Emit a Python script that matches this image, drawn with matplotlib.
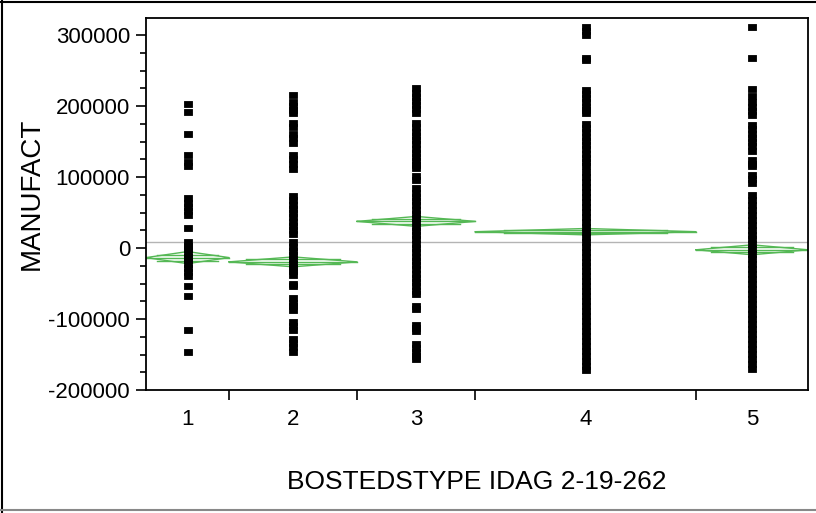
import matplotlib
matplotlib.use('Agg')
import matplotlib.pyplot as plt
import numpy as np
from matplotlib.path import Path
from matplotlib.lines import Line2D
from matplotlib.ticker import MultipleLocator, FixedLocator, NullFormatter, FuncFormatter

plt.rcParams['font.family'] = ['Liberation Sans', 'DejaVu Sans']
plt.rcParams['axes.unicode_minus'] = False

# ---- data ----
categories = ['1', '2', '3', '4', '5']
group_n = [26, 40, 37, 69, 35]  # relative group widths (proportional to counts)

g1 = [203000, 192000, 160000, 131000, 121000, 116000, 70000, 64000, 58000, 52000, 46000,
      27500, 8000, 3000, -2000, -7000, -12000, -17000, -22000, -28000, -34000, -40000,
      -53000, -68000, -116000, -146000]
g2 = [216000, 206000, 200000, 195000, 190000, 176000, 171000, 161000, 155000, 148000,
      131000, 125000, 119000, 112000, 73000, 67000, 61000, 55000, 49000, 43000, 37000,
      31000, 25000, 20000, 8000, 2000, -4000, -10000, -16000, -22000, -28000, -33000,
      -38000, -50000, -54000, -71000, -77000, -82000, -87000, -104000, -110000, -115000,
      -128000, -134000, -140000, -146000]
g3 = [225000, 219000, 213000, 207000, 201000, 196000, 190000, 176000, 170000, 164000,
      158000, 152000, 146000, 140000, 134000, 128000, 122000, 117000, 113000, 101000,
      96000, 84000, 78000, 72000, 66000, 60000, 54000, 48000, 42000, 36000, 30000, 24000,
      18000, 12000, 6000, 0, -6000, -12000, -18000, -24000, -30000, -36000, -42000,
      -48000, -54000, -60000, -65000, -82000, -86000, -108000, -112000, -117000, -135000,
      -141000, -147000, -152000, -156000]
g4 = [311000, 305000, 300000, 268000, 265000, 223000, 217000, 211000, 205000, 199000,
      194000, 190000, 175000, 169000, 163000, 157000, 151000, 145000, 139000, 133000,
      127000, 121000, 115000, 107000, 100000, 93000, 86000, 79000, 72000, 65000, 58000,
      51000, 44000, 37000, 30000, 23000, 16000, 9000, 2000, -5000, -12000, -19000, -26000,
      -33000, -40000, -47000, -54000, -61000, -68000, -75000, -82000, -89000, -96000,
      -103000, -110000, -117000, -124000, -131000, -138000, -145000, -152000, -159000,
      -166000, -172000]
g5 = [312000, 267000, 224000, 214000, 205000, 199000, 193000, 188000, 173000, 167000,
      161000, 155000, 149000, 143000, 137000, 124000, 119000, 115000, 103000, 97000, 91000,
      75000, 68000, 61000, 54000, 47000, 40000, 33000, 26000, 19000, 12000, 5000, -2000,
      -9000, -16000, -23000, -30000, -37000, -44000, -51000, -58000, -65000, -72000,
      -79000, -86000, -93000, -100000, -107000, -114000, -121000, -128000, -135000,
      -142000, -149000, -156000, -163000, -170000]
groups = [g1, g2, g3, g4, g5]

group_means = [-13500, -19500, 37500, 23000, -2500]
group_ci = [8500, 7000, 7000, 4500, 7000]
grand_mean = 8000

y_ticks = [-200000, -100000, 0, 100000, 200000, 300000]

# ---- figure ----
fig = plt.figure(figsize=(8.16, 5.13), dpi=100)
ax = fig.add_axes([146 / 816, 1 - 390 / 513, 662 / 816, 372 / 513])

edges = np.concatenate([[0], np.cumsum(group_n)])
centers = (edges[:-1] + edges[1:]) / 2

asp = 1.25
rect = Path([(-asp, -1), (asp, -1), (asp, 1), (-asp, 1), (-asp, -1)],
            [Path.MOVETO, Path.LINETO, Path.LINETO, Path.LINETO, Path.CLOSEPOLY])

green = '#55b855'

ax.axhline(grand_mean, color='#b4b4b4', lw=1.0, zorder=1)

for i, vals in enumerate(groups):
    L, R = edges[i], edges[i + 1]
    C = (L + R) / 2
    w = R - L
    m, h = group_means[i], group_ci[i]
    ax.plot([L, C, R, C, L], [m, m + h, m, m - h, m], color=green, lw=1.0, zorder=2)
    ax.plot([L, R], [m, m], color=green, lw=1.0, zorder=2)
    for s in (1, -1):
        ax.plot([L + 0.13 * w, R - 0.13 * w], [m + s * 0.5 * h] * 2, color=green, lw=1.0, zorder=2)
    ax.plot(np.full(len(vals), centers[i]), vals, linestyle='none', marker=rect,
            markersize=5.8, color='black', mec='black', mew=0.6, zorder=3)

ax.set_xlim(edges[0], edges[-1])
ax.set_ylim(-200000, 324000)

ax.xaxis.set_major_locator(FixedLocator(edges[1:-1]))
ax.xaxis.set_major_formatter(NullFormatter())
ax.xaxis.set_minor_locator(FixedLocator(centers))
ax.set_xticklabels(categories, minor=True)
ax.tick_params(axis='x', which='major', direction='out', length=7, width=1.2)
ax.tick_params(axis='x', which='minor', length=0, pad=14, labelsize=16)

ax.yaxis.set_major_locator(FixedLocator(y_ticks))
ax.yaxis.set_minor_locator(MultipleLocator(25000))
ax.yaxis.set_major_formatter(FuncFormatter(lambda v, p: f"{int(round(v))}"))
ax.tick_params(axis='y', which='major', direction='out', length=7.5, width=1.2,
               labelsize=16, pad=4)
ax.tick_params(axis='y', which='minor', direction='out', length=4.5, width=1.2)

for sp in ax.spines.values():
    sp.set_linewidth(1.3)

fig.text(32 / 816, 1 - 194 / 513, 'MANUFACT', rotation=90, ha='center', va='center', fontsize=20)
fig.text(477 / 816, 1 - 482 / 513, 'BOSTEDSTYPE IDAG 2-19-262', ha='center', va='center', fontsize=19)

fig.add_artist(Line2D([1.5 / 816, 1.5 / 816], [0, 1], color='black', lw=1.5, transform=fig.transFigure))
fig.add_artist(Line2D([0, 1], [1 - 1.5 / 513, 1 - 1.5 / 513], color='black', lw=1.5, transform=fig.transFigure))
fig.add_artist(Line2D([0, 1], [1 - 510 / 513, 1 - 510 / 513], color='#888888', lw=1.5, transform=fig.transFigure))

fig.savefig('out.png', dpi=100)
